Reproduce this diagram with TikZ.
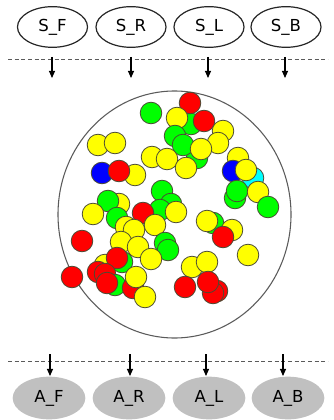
\documentclass[tikz,border=0pt]{standalone}
\usepackage{fontspec}
\setmainfont{DejaVu Sans}
\usetikzlibrary{shapes.geometric, arrows.meta, positioning}
\definecolor{bRed}{HTML}{FF0000}
\definecolor{bGreen}{HTML}{00FF00}
\definecolor{bYellow}{HTML}{FFFF00}
\definecolor{bBlue}{HTML}{0000FF}
\definecolor{bCyan}{HTML}{00FFFF}
\definecolor{bEdge}{HTML}{4A4A33}
\definecolor{actGray}{HTML}{C0C0C0}
\definecolor{rimGray}{HTML}{5A5A5A}

\begin{document}
\begin{tikzpicture}[x=0.75pt, y=-0.75pt,
  sensor/.style={ellipse, draw=black!85, line width=0.9pt, fill=white,
    minimum width=52.5pt, minimum height=30.5pt, inner sep=0pt,
    font=\fontsize{12.4}{14}\selectfont},
  actor/.style={ellipse, fill=actGray, minimum width=54.5pt,
    minimum height=32pt, inner sep=0pt, font=\fontsize{12.4}{14}\selectfont},
  ball/.style={circle, draw=bEdge, line width=0.6pt, inner sep=0pt,
    minimum size=16.2pt},
  divider/.style={rimGray, line width=0.75pt, dash pattern=on 3pt off 2pt},
  flow/.style={line width=0.8pt, -{Triangle[length=5.4pt, width=4.6pt]}}]
  \useasboundingbox (0,0) rectangle (333,420);

  % sensors
  \node[sensor] (sF) at (52.5,27) {S\_F};
  \node[sensor] (sR) at (131,27) {S\_R};
  \node[sensor] (sL) at (209,27) {S\_L};
  \node[sensor] (sB) at (286,27) {S\_B};

  \coordinate (topL) at (8,60);
  \coordinate (topR) at (328,60);
  \draw[divider] (topL) -- (topR);
  \foreach \n/\x in {F/52,R/131,L/208,B/285} {
    \coordinate (in\n) at (\x,57);
    \coordinate (inEnd\n) at (\x,78);
    \draw[flow] (in\n) -- (inEnd\n);
  }

  % the bowl
  \node[ellipse, draw=rimGray, line width=0.8pt, minimum width=174.75pt,
    minimum height=185.25pt, inner sep=0pt] (bowl) at (174.5,214.5) {};

  \foreach \c/\x/\y [count=\i] in {
    bGreen/151/113, bGreen/191/124, bRed/190/103, bYellow/177/118,
    bRed/204/121, bYellow/223/131, bGreen/175/136, bGreen/197/158,
    bYellow/218/143, bGreen/183/145, bYellow/201/149, bYellow/152/157,
    bYellow/167/159, bYellow/186/168,
    bYellow/98/145, bYellow/115/143, bBlue/102/173, bYellow/135/175,
    bRed/119/171,
    bYellow/238/158, bBlue/233/171, bCyan/253/178, bYellow/246/170,
    bGreen/235/198, bGreen/237/191, bYellow/258/192, bGreen/268/207,
    bGreen/162/191, bGreen/171/204, bGreen/160/210, bYellow/176/212,
    bYellow/119/204, bGreen/108/201, bYellow/93/214, bGreen/117/218,
    bRed/143/213, bYellow/126/227, bYellow/134/230, bYellow/155/225,
    bRed/82/241, bYellow/121/242, bYellow/138/247, bGreen/165/243,
    bGreen/168/250, bYellow/151/259,
    bYellow/105/265, bGreen/122/262, bRed/117/258, bRed/98/272,
    bRed/105/274, bGreen/115/285, bRed/107/283, bRed/133/288,
    bYellow/136/277, bYellow/145/297, bRed/72/277,
    bGreen/213/223, bYellow/207/221, bYellow/232/230, bRed/223/237,
    bYellow/248/255, bYellow/192/267, bYellow/207/262, bRed/185/287,
    bRed/217/291, bRed/213/293, bRed/208/282}
    \node[ball, fill=\c] (ball\i) at (\x,\y) {};

  % actuators
  \coordinate (botL) at (8,361);
  \coordinate (botR) at (328,361);
  \draw[divider] (botL) -- (botR);
  \foreach \n/\x in {F/50,R/130,L/206,B/283} {
    \coordinate (out\n) at (\x,354);
    \coordinate (outEnd\n) at (\x,376);
    \draw[flow] (out\n) -- (outEnd\n);
  }
  \node[actor] (aF) at (49,398) {A\_F};
  \node[actor] (aR) at (129,398) {A\_R};
  \node[actor] (aL) at (209,398) {A\_L};
  \node[actor] (aB) at (288,398) {A\_B};
\end{tikzpicture}
\end{document}
